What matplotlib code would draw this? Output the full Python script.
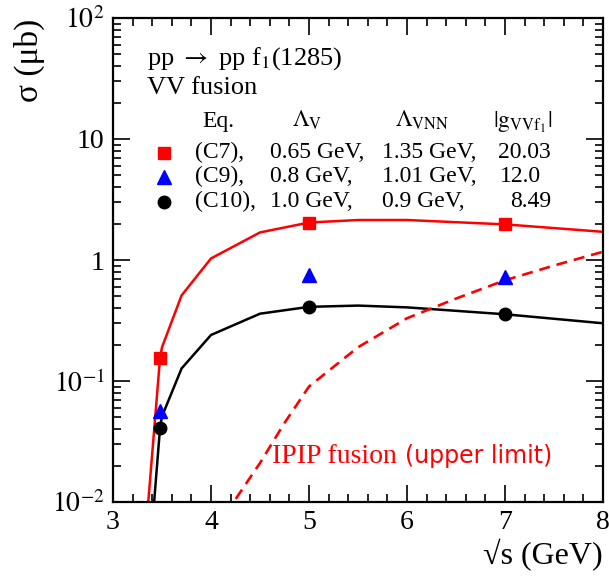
import matplotlib
matplotlib.use("Agg")
import matplotlib.pyplot as plt
from matplotlib.ticker import FixedLocator, FixedFormatter, LogLocator, MultipleLocator, NullFormatter

plt.rcParams["font.family"] = ["Liberation Serif", "DejaVu Serif"]
plt.rcParams["mathtext.fontset"] = "stix"

# VV fusion model curves (sqrt(s) in GeV, sigma in microbarn)
x_c7 = [3.35, 3.48, 3.5, 3.7, 4.0, 4.5, 5.0, 5.5, 6.0, 7.0, 8.0]
y_c7 = [0.008, 0.155, 0.19, 0.51, 1.03, 1.69, 2.04, 2.14, 2.14, 1.97, 1.71]

x_c10 = [3.41, 3.48, 3.5, 3.7, 4.0, 4.5, 5.0, 5.5, 6.0, 7.0, 8.0]
y_c10 = [0.008, 0.041, 0.051, 0.127, 0.24, 0.36, 0.41, 0.42, 0.406, 0.356, 0.30]

# IPIP fusion upper limit
x_ipip = [4.15, 4.5, 4.75, 5.0, 5.5, 6.0, 6.5, 7.0, 7.5, 8.0]
y_ipip = [0.008, 0.021, 0.045, 0.09, 0.19, 0.33, 0.48, 0.68, 0.9, 1.17]

# points
pts_x = [3.48, 5.0, 7.0]
sq_y = [0.155, 2.04, 1.97]
tri_y = [0.057, 0.75, 0.73]
circ_y = [0.041, 0.41, 0.356]

yticks = [1e-2, 1e-1, 1, 10, 1e2]
ytick_labels = [r"$10^{-2}$", r"$10^{-1}$", "1", "10", r"$10^{2}$"]

legend_eq = ["(C7),", "(C9),", "(C10),"]
legend_lv = ["0.65 GeV,", "0.8 GeV,", "1.0 GeV,"]
legend_lvnn = ["1.35 GeV,", "1.01 GeV,", "0.9 GeV,"]
legend_g = ["20.03", "12.0", "8.49"]

fig = plt.figure(figsize=(6.09, 5.78), dpi=100)
ax = fig.add_axes([113 / 609, 1 - 502 / 578, 490 / 609, 484 / 578])

ax.plot(x_c7, y_c7, color="#ff0000", lw=1.8, zorder=2)
ax.plot(x_c10, y_c10, color="black", lw=1.8, zorder=2)
ax.plot(x_ipip, y_ipip, color="#ff0000", lw=1.9, ls=(0, (4.2, 2.6)), zorder=2)

ax.plot(pts_x, sq_y, ls="none", marker="s", ms=9, color="#ff0000", zorder=3)
ax.plot(pts_x, tri_y, ls="none", marker="^", ms=10, color="#0000ff", zorder=3)
ax.plot(pts_x, circ_y, ls="none", marker="o", ms=9, color="black", zorder=3)

ax.set_yscale("log")
ax.set_xlim(3, 8)
ax.set_ylim(1e-2, 1e2)

ax.yaxis.set_major_locator(FixedLocator(yticks))
ax.yaxis.set_major_formatter(FixedFormatter(ytick_labels))
ax.yaxis.set_minor_locator(LogLocator(base=10, subs=range(2, 10)))
ax.yaxis.set_minor_formatter(NullFormatter())
ax.xaxis.set_major_locator(MultipleLocator(1))
ax.xaxis.set_minor_locator(MultipleLocator(0.2))

ax.tick_params(which="both", direction="in", top=True, right=True, labelsize=20, width=1.2)
ax.tick_params(which="major", length=12, pad=6)
ax.tick_params(which="minor", length=6)
for s in ax.spines.values():
    s.set_linewidth(1.6)

fig.text(0.049, 0.896, "σ (μb)", rotation=90, fontsize=24, ha="center", va="center")
fig.text(0.990, 0.040, "√s (GeV)", fontsize=23, ha="right", va="center")

tr = ax.transAxes
ax.text(0.069, 0.903, r"pp $\rightarrow$ pp f$_{1}$(1285)", transform=tr, fontsize=19, va="baseline")
ax.text(0.069, 0.843, "VV fusion", transform=tr, fontsize=19, va="baseline")

ax.text(0.182, 0.775, "Eq.", transform=tr, fontsize=17, va="baseline")
ax.text(0.365, 0.775, r"$\Lambda_{\mathrm{V}}$", transform=tr, fontsize=17, va="baseline")
ax.text(0.576, 0.775, r"$\Lambda_{\mathrm{VNN}}$", transform=tr, fontsize=17, va="baseline")
ax.text(0.776, 0.775, r"$|\mathrm{g}_{\mathrm{VVf}_{1}}|$", transform=tr, fontsize=17, va="baseline")

row_y = [0.710, 0.661, 0.610]
mark_y = [0.722, 0.672, 0.620]
ax.plot(0.104, mark_y[0], marker="s", ms=9, color="#ff0000", transform=tr, clip_on=False)
ax.plot(0.104, mark_y[1], marker="^", ms=10, color="#0000ff", transform=tr, clip_on=False)
ax.plot(0.104, mark_y[2], marker="o", ms=9, color="black", transform=tr, clip_on=False)
g_x = [0.786, 0.789, 0.810]
for i in range(3):
    ax.text(0.167, row_y[i], legend_eq[i], transform=tr, fontsize=17, va="baseline")
    ax.text(0.320, row_y[i], legend_lv[i], transform=tr, fontsize=17, va="baseline")
    ax.text(0.549, row_y[i], legend_lvnn[i], transform=tr, fontsize=17, va="baseline")
    ax.text(g_x[i], row_y[i], legend_g[i], transform=tr, fontsize=17, va="baseline")

ax.text(0.324, 0.080, "IPIP fusion", transform=tr, fontsize=20, color="#ff0000", va="baseline")
ax.text(0.596, 0.080, "(upper limit)", transform=tr, fontsize=17, color="#ff0000",
        va="baseline", family="DejaVu Sans")

fig.savefig("out.png", dpi=100)
